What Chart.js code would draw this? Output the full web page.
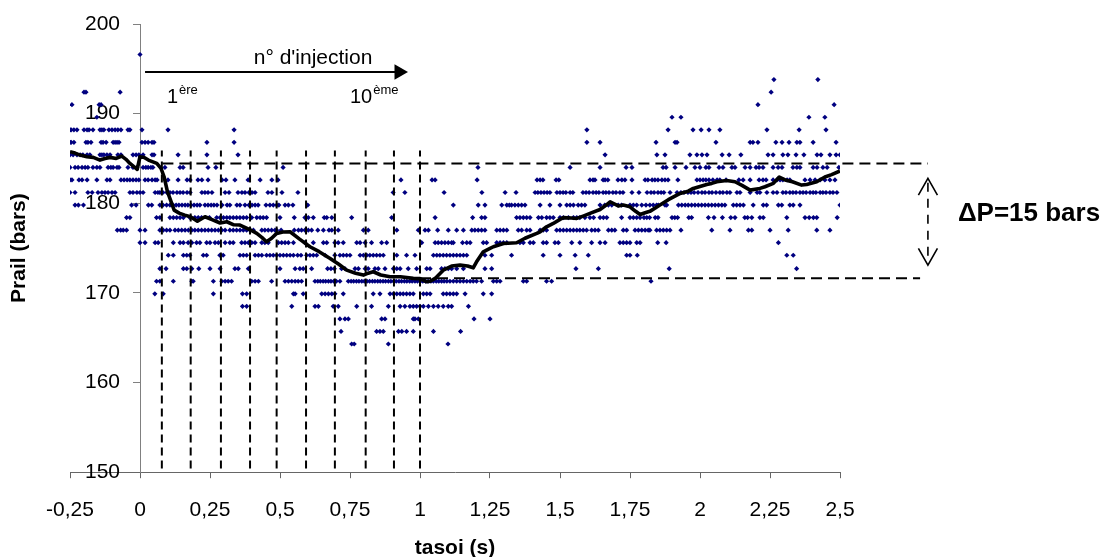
<!DOCTYPE html>
<html>
<head>
<meta charset="utf-8">
<script src="https://cdn.jsdelivr.net/npm/chart.js@4.4.1/dist/chart.umd.min.js"></script>
<style>html,body{margin:0;padding:0;background:#fff;}canvas{display:block;}</style>
</head>
<body>
<canvas id="c" width="1102" height="557"></canvas>
<script>
const FONT = "'Liberation Sans', Arial, Helvetica, sans-serif";

// ---- axes ----
const xTickValues = [-0.25, 0, 0.25, 0.5, 0.75, 1, 1.25, 1.5, 1.75, 2, 2.25, 2.5];
const xTickLabels = ['-0,25', '0', '0,25', '0,5', '0,75', '1', '1,25', '1,5', '1,75', '2', '2,25', '2,5'];
const yTickValues = [150, 160, 170, 180, 190, 200];
const yTickLabels = ['150', '160', '170', '180', '190', '200'];
const xTitle = 'tasoi (s)';
const yTitle = 'Prail (bars)';

// ---- measured rail pressure samples: one list of times (s) per pressure level (bars) ----
const dots1966 = [0.0];
const dots1938 = [2.264, 2.421];
const dots1924 = [-0.2, -0.193, -0.071, 2.254];
const dots1910 = [-0.243, -0.146, -0.139, 2.207, 2.479];
const dots1896 = [-0.154, 1.9, 1.932, 2.389, 2.446];
const dots1882 = [-0.25,-0.246,-0.236,-0.225,-0.2,-0.189,-0.182,-0.168,-0.143,-0.136,-0.129,-0.111,-0.1,-0.089,-0.079,-0.068,-0.043,-0.036,0.007,0.1,0.336,1.596,1.886,1.975,2.004,2.032,2.071,2.239,2.354,2.45];
const dots1868 = [-0.25,-0.246,-0.236,-0.193,-0.186,-0.175,-0.139,-0.132,-0.121,-0.096,-0.089,-0.082,-0.075,0.007,0.018,0.029,0.043,0.05,0.239,0.336,1.596,1.643,1.843,1.911,1.918,2.057,2.179,2.189,2.207,2.271,2.293,2.318,2.346,2.357,2.404,2.486];
const dots1854 = [-0.25,-0.239,-0.225,-0.214,-0.204,-0.189,-0.179,-0.143,-0.136,-0.129,-0.118,-0.107,-0.079,-0.068,-0.025,-0.014,-0.004,0.011,0.043,0.05,0.136,0.239,0.35,1.661,1.846,1.875,1.964,1.989,2.007,2.025,2.079,2.104,2.146,2.243,2.261,2.296,2.314,2.343,2.371,2.418,2.432,2.464,2.486,2.5];
const dots1840 = [-0.25,-0.232,-0.221,-0.207,-0.196,-0.186,-0.168,-0.154,-0.143,-0.114,-0.104,-0.096,-0.082,-0.075,-0.043,-0.025,-0.011,0.011,0.021,0.029,0.039,0.046,0.089,0.143,0.154,0.243,0.271,0.511,1.207,1.536,1.643,1.736,1.757,1.868,1.879,1.911,1.95,1.982,2.0,2.021,2.032,2.068,2.082,2.114,2.125,2.161,2.179,2.2,2.211,2.225,2.261,2.279,2.293,2.332,2.346,2.357,2.404,2.418,2.439,2.454,2.496];
const dots1826 = [-0.25,-0.243,-0.218,-0.207,-0.189,-0.154,-0.118,-0.107,-0.068,-0.057,-0.046,-0.036,-0.025,-0.014,-0.004,0.018,0.029,0.043,0.054,0.061,0.1,0.136,0.168,0.179,0.207,0.221,0.243,0.293,0.307,0.339,0.386,0.429,0.471,0.493,0.932,1.043,1.054,1.204,1.418,1.429,1.439,1.486,1.496,1.607,1.618,1.625,1.654,1.661,1.671,1.707,1.721,1.732,1.757,1.804,1.814,1.829,1.839,1.85,1.864,1.875,1.886,1.921,1.989,2.0,2.011,2.021,2.032,2.046,2.061,2.071,2.093,2.139,2.154,2.179,2.211,2.225,2.236,2.261,2.275,2.286,2.296,2.311,2.321,2.375,2.393,2.411,2.429,2.446,2.464,2.482];
const dots1812 = [-0.25,-0.232,-0.186,-0.171,-0.15,-0.136,-0.125,-0.114,-0.1,-0.089,-0.036,-0.025,-0.011,0,0.011,0.054,0.064,0.071,0.082,0.096,0.107,0.118,0.132,0.143,0.154,0.168,0.179,0.221,0.232,0.243,0.257,0.304,0.318,0.35,0.364,0.375,0.389,0.4,0.411,0.457,0.471,0.507,0.564,0.904,0.946,1.086,1.221,1.304,1.343,1.411,1.421,1.432,1.443,1.454,1.464,1.489,1.5,1.511,1.521,1.536,1.546,1.582,1.593,1.604,1.618,1.629,1.639,1.654,1.664,1.675,1.689,1.7,1.714,1.725,1.757,1.782,1.811,1.825,1.836,1.85,1.861,1.871,1.893,1.918,1.932,1.943,1.957,1.968,1.979,1.993,2.007,2.018,2.032,2.043,2.057,2.071,2.082,2.096,2.107,2.132,2.143,2.179,2.204,2.214,2.239,2.261,2.275,2.296,2.307,2.321,2.332,2.343,2.357,2.368,2.379,2.393,2.404,2.414,2.429,2.439,2.45,2.464,2.475,2.489];
const dots1798 = [-0.232,-0.22,-0.202,-0.03,-0.014,0.03,0.042,0.071,0.082,0.095,0.107,0.118,0.129,0.139,0.15,0.161,0.171,0.182,0.193,0.204,0.214,0.232,0.243,0.254,0.264,0.275,0.293,0.311,0.321,0.346,0.357,0.375,0.389,0.4,0.411,0.422,0.45,0.464,0.476,0.488,0.496,0.518,0.53,0.546,0.599,1.119,1.208,1.232,1.292,1.31,1.319,1.327,1.339,1.351,1.363,1.375,1.429,1.464,1.5,1.524,1.536,1.548,1.565,1.577,1.589,1.643,1.66,1.673,1.685,1.708,1.72,1.75,1.762,1.774,1.792,1.807,1.821,1.833,1.845,1.851,1.875,1.881,1.923,1.935,1.947,1.958,1.97,1.982,1.994,2.006,2.018,2.03,2.042,2.054,2.066,2.078,2.089,2.119,2.131,2.143,2.155,2.19,2.226,2.238,2.28,2.292,2.321,2.333,2.357,2.5];
const dots1784 = [-0.048,-0.036,0.059,0.071,0.107,0.119,0.131,0.143,0.155,0.178,0.196,0.208,0.22,0.248,0.274,0.286,0.298,0.31,0.321,0.333,0.345,0.357,0.369,0.381,0.399,0.417,0.429,0.44,0.452,0.5,0.551,0.589,0.601,0.619,0.658,0.667,0.685,0.756,0.899,1.054,1.188,1.22,1.232,1.345,1.357,1.369,1.381,1.393,1.423,1.435,1.452,1.464,1.476,1.5,1.512,1.53,1.548,1.56,1.571,1.589,1.607,1.62,1.643,1.655,1.667,1.72,1.75,1.762,1.774,1.786,1.8,1.81,1.82,1.84,1.85,1.9,1.91,1.92,1.96,1.97,2.03,2.05,2.08,2.11,2.125,2.16,2.17,2.185,2.214,2.226,2.31,2.375,2.39,2.405,2.417,2.49];
const dots1770 = [-0.081,-0.069,-0.06,-0.048,0.0,0.018,0.071,0.083,0.095,0.107,0.125,0.137,0.149,0.161,0.173,0.185,0.196,0.208,0.22,0.232,0.244,0.256,0.268,0.28,0.292,0.304,0.321,0.333,0.345,0.357,0.369,0.381,0.393,0.405,0.435,0.446,0.458,0.47,0.482,0.488,0.504,0.551,0.566,0.577,0.589,0.601,0.613,0.635,0.655,0.675,0.685,0.708,0.798,0.815,0.917,0.994,1.018,1.03,1.063,1.101,1.131,1.155,1.185,1.196,1.208,1.22,1.232,1.274,1.286,1.298,1.31,1.351,1.363,1.381,1.393,1.429,1.44,1.452,1.488,1.5,1.512,1.524,1.536,1.548,1.56,1.571,1.583,1.595,1.613,1.625,1.637,1.673,1.685,1.696,1.726,1.738,1.768,1.78,1.792,1.804,1.815,1.821,1.845,1.857,1.869,1.881,1.893,1.932,2.042,2.107,2.173,2.185,2.25,2.315,2.417,2.464];
const dots1756 = [0.0,0.018,0.054,0.065,0.119,0.143,0.155,0.172,0.185,0.202,0.214,0.238,0.25,0.268,0.28,0.304,0.321,0.333,0.363,0.375,0.387,0.399,0.411,0.435,0.446,0.458,0.494,0.506,0.518,0.53,0.548,0.589,0.619,0.655,0.667,0.696,0.708,0.726,0.774,0.786,0.804,0.827,0.863,0.881,1.006,1.054,1.065,1.077,1.089,1.101,1.113,1.119,1.152,1.167,1.179,1.226,1.238,1.274,1.286,1.298,1.31,1.357,1.369,1.393,1.405,1.44,1.452,1.482,1.494,1.542,1.571,1.613,1.643,1.661,1.714,1.726,1.738,1.75,1.774,1.786,1.849,1.879,2.28];
const dots1742 = [0.101,0.119,0.155,0.167,0.178,0.226,0.238,0.285,0.297,0.357,0.369,0.381,0.411,0.423,0.435,0.452,0.464,0.476,0.488,0.5,0.512,0.524,0.536,0.548,0.563,0.575,0.595,0.607,0.619,0.631,0.661,0.696,0.714,0.726,0.738,0.75,0.786,0.798,0.81,0.821,0.833,0.845,0.857,0.869,0.917,0.952,0.982,1.048,1.06,1.071,1.083,1.095,1.107,1.119,1.131,1.143,1.155,1.167,1.232,1.256,1.327,1.44,1.5,1.554,1.601,1.738,1.75,1.776,2.31,2.333];
const dots1727 = [0.071,0.093,0.155,0.167,0.185,0.21,0.25,0.286,0.339,0.351,0.387,0.5,0.554,0.571,0.583,0.613,0.67,0.682,0.694,0.72,0.732,0.768,0.78,0.804,0.815,0.839,0.851,0.875,0.905,0.917,0.929,0.958,0.988,1.024,1.036,1.077,1.089,1.101,1.113,1.131,1.155,1.232,1.256,1.557,1.637,1.89,2.345];
const dots1713 = [0.059,0.071,0.119,0.185,0.19,0.262,0.292,0.304,0.315,0.327,0.399,0.411,0.423,0.47,0.518,0.53,0.542,0.554,0.565,0.577,0.625,0.635,0.644,0.654,0.663,0.673,0.682,0.692,0.701,0.714,0.744,0.754,0.763,0.773,0.782,0.792,0.801,0.811,0.82,0.83,0.839,0.849,0.858,0.868,0.877,0.887,0.896,0.906,0.915,0.925,0.934,0.944,0.953,0.963,0.972,0.982,0.991,1.001,1.01,1.02,1.029,1.039,1.048,1.058,1.067,1.077,1.086,1.096,1.107,1.119,1.131,1.143,1.155,1.167,1.179,1.19,1.202,1.22,1.262,1.274,1.286,1.369,1.381,1.452,1.47,1.825];
const dots1699 = [0.053,0.083,0.262,0.366,0.381,0.548,0.554,0.583,0.649,0.661,0.673,0.685,0.696,0.726,0.833,0.857,0.893,0.905,0.917,0.929,0.94,0.952,0.964,0.976,1.012,1.024,1.036,1.083,1.095,1.107,1.119,1.131,1.161,1.226,1.256];
const dots1685 = [0.366,0.381,0.542,0.625,0.637,0.69,0.708,0.774,0.827,0.887,0.929,0.946,0.964,0.976,0.988,1.0,1.012,1.03,1.048,1.065,1.083,1.101,1.113,1.173];
const dots1671 = [0.714,0.732,0.744,0.863,0.875,0.976,0.982,0.994,1.193,1.25];
const dots1657 = [0.718,0.845,0.857,0.869,0.923,0.935,0.952,0.976,1.048,1.145];
const dots1643 = [0.756,0.765,0.887,1.1];

const dotLevels = [196.6, 193.8, 192.4, 191.0, 189.6, 188.2, 186.8, 185.4, 184.0, 182.6, 181.2, 179.8, 178.4, 177.0, 175.6, 174.2, 172.7, 171.3, 169.9, 168.5, 167.1, 165.7, 164.3];
const dotRows = [dots1966, dots1938, dots1924, dots1910, dots1896, dots1882, dots1868, dots1854, dots1840, dots1826, dots1812, dots1798, dots1784, dots1770, dots1756, dots1742, dots1727, dots1713, dots1699, dots1685, dots1671, dots1657, dots1643];

// ---- smoothed (moving average) pressure ----
const avgT = [-0.25,-0.232,-0.214,-0.19,-0.167,-0.143,-0.125,-0.107,-0.085,-0.065,-0.05,-0.036,-0.01,0.0,0.015,0.03,0.06,0.075,0.086,0.098,0.122,0.14,0.16,0.18,0.205,0.232,0.255,0.286,0.31,0.335,0.357,0.39,0.417,0.435,0.452,0.47,0.488,0.51,0.536,0.57,0.607,0.64,0.679,0.71,0.738,0.77,0.798,0.815,0.833,0.86,0.893,0.93,0.976,1.0,1.024,1.036,1.054,1.083,1.113,1.143,1.17,1.19,1.202,1.214,1.226,1.25,1.262,1.298,1.345,1.375,1.417,1.429,1.452,1.476,1.5,1.512,1.54,1.56,1.585,1.607,1.643,1.665,1.679,1.708,1.726,1.75,1.77,1.786,1.804,1.821,1.857,1.887,1.929,1.958,1.976,2.024,2.042,2.06,2.095,2.125,2.15,2.179,2.214,2.232,2.262,2.283,2.304,2.33,2.363,2.381,2.417,2.446,2.47,2.5];
const avgP = [185.75,185.6,185.38,185.2,185.12,184.82,185.0,185.12,185.0,185.27,184.9,184.45,183.78,185.19,185.1,184.82,184.45,183.9,182.96,181.3,179.24,178.9,178.68,178.5,178.0,178.5,178.2,177.8,177.94,177.6,177.57,177.1,176.64,176.2,175.71,176.1,176.64,176.8,176.82,176.0,175.15,174.6,173.85,173.2,172.54,172.2,171.99,172.2,172.36,172.0,171.8,171.8,171.62,171.6,171.24,171.3,171.62,172.54,173.0,173.1,173.0,172.8,173.47,174.03,174.59,174.96,175.15,175.52,175.6,176.1,176.64,176.82,177.38,177.75,178.2,178.4,178.35,178.31,178.6,178.87,179.3,179.8,180.17,179.7,179.8,179.61,179.1,178.75,178.94,179.1,179.8,180.4,181.1,181.35,181.66,182.1,182.22,182.4,182.55,182.4,182.0,181.47,181.66,181.84,182.22,182.93,182.6,182.4,182.03,182.1,182.4,182.93,183.2,183.6];

// ---- annotations (data units) ----
const injectionTimes = [0.078, 0.181, 0.289, 0.393, 0.488, 0.593, 0.696, 0.806, 0.907, 1.0];
const injectionSpan = [150.4, 185.9];
const upperRef = {from: 0.08, to: 2.814, p: 184.43};
const lowerRef = {from: 1.0, to: 2.786, p: 171.65};
const arrowTimes = [0.018, 0.925];
const arrowP = 194.64;
const deltaArrowT = 2.814;
const deltaArrowP = [182.78, 173.1];
const arrowText = "n° d'injection";
const firstLabel = ['1', 'ère'];
const lastLabel = ['10', 'ème'];
const deltaText = 'ΔP=15 bars';

const dotPoints = [];
dotLevels.forEach((lv, i) => dotRows[i].forEach(t => dotPoints.push({x: t, y: lv})));
const avgPoints = avgT.map((t, i) => ({x: t, y: avgP[i]}));

const lineDs = (data, extra) => Object.assign({
  data, showLine: true, borderColor: '#000', backgroundColor: '#000',
  borderWidth: 2, pointRadius: 0, pointHoverRadius: 0, fill: false, tension: 0
}, extra || {});

// chevrons listed right-to-left so every vertex is kept although they lie right of the x range
const chevron = (apexP, armP) => [
  {x: deltaArrowT + 0.034, y: armP}, {x: deltaArrowT, y: apexP}, {x: deltaArrowT - 0.034, y: armP}
];

const datasets = [
  lineDs(avgPoints, {borderWidth: 3.6, borderJoinStyle: 'round'}),
  lineDs([{x: arrowTimes[0], y: arrowP}, {x: arrowTimes[1], y: arrowP}],
         {pointRadius: [0, 9], pointStyle: 'triangle', pointRotation: 90, pointBorderWidth: 0, pointBackgroundColor: '#000'}),
  ...injectionTimes.map(t => lineDs([{x: t, y: injectionSpan[0]}, {x: t, y: injectionSpan[1]}], {borderDash: [8, 5]})),
  lineDs([{x: upperRef.from, y: upperRef.p}, {x: upperRef.to, y: upperRef.p}], {borderDash: [11, 6], clip: false}),
  lineDs([{x: lowerRef.from, y: lowerRef.p}, {x: lowerRef.to, y: lowerRef.p}], {borderDash: [11, 6], clip: false}),
  lineDs([{x: deltaArrowT, y: deltaArrowP[0] - 0.5}, {x: deltaArrowT, y: deltaArrowP[1] + 0.5}], {borderDash: [9, 7], borderWidth: 1.6, clip: false}),
  lineDs(chevron(deltaArrowP[0], deltaArrowP[0] - 1.86), {borderWidth: 1.6, clip: false}),
  lineDs(chevron(deltaArrowP[1], deltaArrowP[1] + 1.86), {borderWidth: 1.6, clip: false}),
  {data: dotPoints, showLine: false, pointStyle: 'rectRot', pointRadius: 2.6, pointHoverRadius: 2.6,
   pointBorderWidth: 0, backgroundColor: '#000080', borderColor: '#000080'}
];

const textPlugin = {
  id: 'texts',
  afterDatasetsDraw(chart) {
    const {ctx, scales: {x, y}} = chart;
    ctx.save();
    ctx.fillStyle = '#000';
    ctx.textBaseline = 'alphabetic';
    ctx.textAlign = 'center';
    ctx.font = `21px ${FONT}`;
    ctx.fillText(arrowText, x.getPixelForValue(0.618), y.getPixelForValue(195.59));
    const sup = (parts, t) => {
      const px = x.getPixelForValue(t), py = y.getPixelForValue(191.22);
      ctx.textAlign = 'left';
      ctx.font = `20px ${FONT}`;
      ctx.fillText(parts[0], px, py);
      const w = ctx.measureText(parts[0]).width;
      ctx.font = `13px ${FONT}`;
      ctx.fillText(parts[1], px + w + 1, py - 9);
    };
    sup(firstLabel, 0.096);
    sup(lastLabel, 0.75);
    ctx.textAlign = 'left';
    ctx.font = `bold 26px ${FONT}`;
    ctx.fillText(deltaText, x.getPixelForValue(2.921), y.getPixelForValue(178.0));
    ctx.restore();
  }
};

new Chart(document.getElementById('c'), {
  type: 'scatter',
  data: {datasets},
  options: {
    responsive: false,
    animation: false,
    events: [],
    layout: {padding: {left: 7, right: 262, top: 24, bottom: 0}},
    plugins: {legend: {display: false}, tooltip: {enabled: false}},
    scales: {
      x: {
        type: 'linear', position: 'bottom', min: -0.25, max: 2.5,
        afterBuildTicks: s => { s.ticks = xTickValues.map(v => ({value: v})); },
        ticks: {callback: (v, i) => xTickLabels[i], font: {family: FONT, size: 21}, color: '#000',
                padding: 19.4, maxRotation: 0, autoSkip: false},
        grid: {drawOnChartArea: false, drawTicks: true, tickLength: 6, color: '#666'},
        border: {display: true, color: '#666', width: 1},
        title: {display: true, text: xTitle, font: {family: FONT, size: 21, weight: 'bold', lineHeight: 0.8}, color: '#000',
                padding: {top: -2, bottom: 0}}
      },
      // vertical axis line and tick marks, crossing the time axis at t = 0
      y: {
        type: 'linear', axis: 'y', position: {x: 0}, min: 150, max: 200,
        afterBuildTicks: s => { s.ticks = yTickValues.map(v => ({value: v})); },
        ticks: {display: false},
        grid: {drawOnChartArea: false, drawTicks: true, tickLength: 7, color: '#808080'},
        border: {display: true, color: '#808080', width: 1}
      },
      // tick labels of the pressure axis, set back from the axis line
      yLabels: {
        type: 'linear', axis: 'y', position: {x: -0.0714}, min: 150, max: 200,
        afterBuildTicks: s => { s.ticks = yTickValues.map(v => ({value: v})); },
        ticks: {callback: (v, i) => yTickLabels[i], font: {family: FONT, size: 21}, color: '#000', padding: 0},
        grid: {display: false, drawTicks: false, drawOnChartArea: false},
        border: {display: false}
      },
      yTitle: {
        type: 'linear', axis: 'y', position: 'left', min: 150, max: 200,
        ticks: {display: false},
        grid: {display: false, drawTicks: false, drawOnChartArea: false},
        border: {display: false},
        title: {display: true, text: yTitle, font: {family: FONT, size: 21, weight: 'bold'}, color: '#000',
                padding: {top: 0, bottom: 37.8}}
      }
    }
  },
  plugins: [textPlugin]
});
</script>
</body>
</html>
